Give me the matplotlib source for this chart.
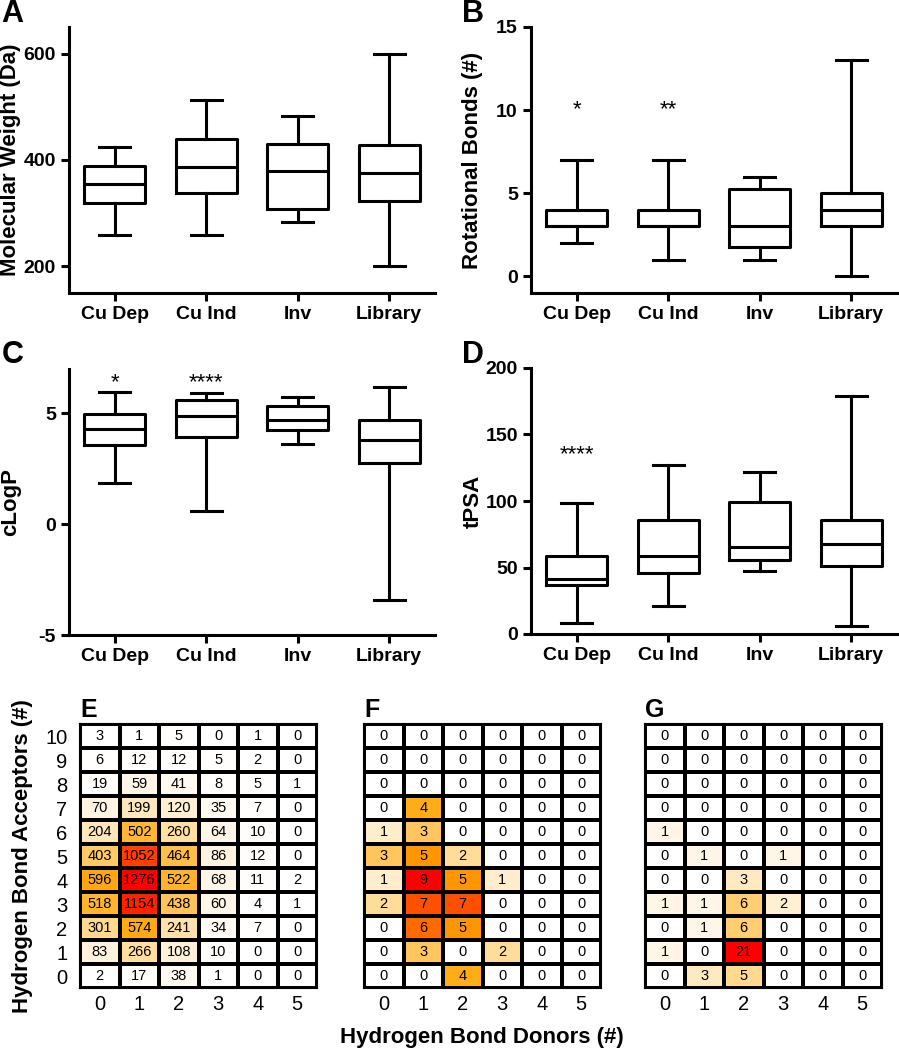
import numpy as np
import matplotlib
matplotlib.use("Agg")
import matplotlib.pyplot as plt
from matplotlib.colors import LinearSegmentedColormap, Normalize

plt.rcParams['font.family'] = ['Liberation Sans', 'DejaVu Sans']

# ---------------- data ----------------
groups = ["Cu Dep", "Cu Ind", "Inv", "Library"]

mw_low = [259, 259, 283, 200]
mw_q1 = [320, 338, 307, 323]
mw_med = [354, 387, 379, 375]
mw_q3 = [389, 439, 431, 428]
mw_high = [424, 513, 483, 599]

rb_low = [2, 1, 1, 0]
rb_q1 = [3, 3, 1.75, 3]
rb_med = [3, 3, 3, 4]
rb_q3 = [4, 4, 5.25, 5]
rb_high = [7, 7, 6, 13]

clogp_low = [1.87, 0.59, 3.6, -3.4]
clogp_q1 = [3.55, 3.92, 4.25, 2.74]
clogp_med = [4.28, 4.88, 4.7, 3.8]
clogp_q3 = [4.97, 5.6, 5.33, 4.7]
clogp_high = [5.98, 5.93, 5.75, 6.17]

tpsa_low = [8, 21, 47, 6.3]
tpsa_q1 = [37.2, 46, 55.8, 51]
tpsa_med = [41.5, 58.3, 65.6, 67.8]
tpsa_q3 = [58.5, 85.4, 99.2, 85.9]
tpsa_high = [98.7, 126.9, 121.8, 178.7]

# significance marks: (group index, y, text)
rb_sig = [(0, 10.0, "*"), (1, 10.0, "**")]
clogp_sig = [(0, 6.4, "*"), (1, 6.4, "****")]
tpsa_sig = [(0, 135, "****")]
mw_sig = []

donors = [0, 1, 2, 3, 4, 5]
acceptors = [0, 1, 2, 3, 4, 5, 6, 7, 8, 9, 10]

# rows: acceptors 10 (top) -> 0 (bottom); columns: donors 0..5
hb_library = [
    [3, 1, 5, 0, 1, 0],
    [6, 12, 12, 5, 2, 0],
    [19, 59, 41, 8, 5, 1],
    [70, 199, 120, 35, 7, 0],
    [204, 502, 260, 64, 10, 0],
    [403, 1052, 464, 86, 12, 0],
    [596, 1276, 522, 68, 11, 2],
    [518, 1154, 438, 60, 4, 1],
    [301, 574, 241, 34, 7, 0],
    [83, 266, 108, 10, 0, 0],
    [2, 17, 38, 1, 0, 0],
]
hb_cu_dep = [
    [0, 0, 0, 0, 0, 0],
    [0, 0, 0, 0, 0, 0],
    [0, 0, 0, 0, 0, 0],
    [0, 4, 0, 0, 0, 0],
    [1, 3, 0, 0, 0, 0],
    [3, 5, 2, 0, 0, 0],
    [1, 9, 5, 1, 0, 0],
    [2, 7, 7, 0, 0, 0],
    [0, 6, 5, 0, 0, 0],
    [0, 3, 0, 2, 0, 0],
    [0, 0, 4, 0, 0, 0],
]
hb_cu_ind = [
    [0, 0, 0, 0, 0, 0],
    [0, 0, 0, 0, 0, 0],
    [0, 0, 0, 0, 0, 0],
    [0, 0, 0, 0, 0, 0],
    [1, 0, 0, 0, 0, 0],
    [0, 1, 0, 1, 0, 0],
    [0, 0, 3, 0, 0, 0],
    [1, 1, 6, 2, 0, 0],
    [0, 1, 6, 0, 0, 0],
    [1, 0, 21, 0, 0, 0],
    [0, 3, 5, 0, 0, 0],
]

# ---------------- figure ----------------
W, H = 899, 1050
fig = plt.figure(figsize=(W / 100, H / 100), dpi=100)


def rect(l, t, r, b):
    return [l / W, 1 - b / H, (r - l) / W, (b - t) / H]


LW = 2.2


def boxpanel(r, low, q1, med, q3, high, ylim, yticks, ylabel, sig, letter, lpos):
    ax = fig.add_axes(r)
    stats = []
    for i in range(len(groups)):
        stats.append(dict(med=med[i], q1=q1[i], q3=q3[i], whislo=low[i],
                          whishi=high[i], fliers=[], label=groups[i]))
    pr = dict(color='black', linewidth=LW)
    ax.bxp(stats, positions=range(len(groups)), widths=0.67, showfliers=False,
           boxprops=pr, whiskerprops=pr, capprops=pr,
           medianprops=dict(color='black', linewidth=LW))
    ax.set_xlim(-0.5, len(groups) - 0.5)
    ax.set_ylim(*ylim)
    ax.set_yticks(yticks)
    ax.set_yticklabels([str(t) for t in yticks])
    ax.set_xticks(range(len(groups)))
    ax.set_xticklabels(groups)
    for s in ['top', 'right']:
        ax.spines[s].set_visible(False)
    for s in ['left', 'bottom']:
        ax.spines[s].set_linewidth(LW)
    ax.tick_params(axis='both', direction='out', length=5.5, width=LW,
                   labelsize=14, pad=4)
    for lab in ax.get_xticklabels() + ax.get_yticklabels():
        lab.set_fontweight('bold')
    ax.set_ylabel(ylabel, fontsize=16, fontweight='bold')
    ax.yaxis.set_label_coords(-0.13, 0.5)
    for gi, y, txt in sig:
        ax.text(gi, y, txt, ha='center', va='center', fontsize=16)
    fig.text(lpos[0] / W, 1 - lpos[1] / H, letter, fontsize=22,
             fontweight='bold', ha='left', va='baseline')
    return ax


boxpanel(rect(69, 27, 435, 293), mw_low, mw_q1, mw_med, mw_q3, mw_high,
         (150, 650), [200, 400, 600], "Molecular Weight (Da)", mw_sig, "A", (1, 22))
boxpanel(rect(531, 27, 897, 293), rb_low, rb_q1, rb_med, rb_q3, rb_high,
         (-1, 15), [0, 5, 10, 15], "Rotational Bonds (#)", rb_sig, "B", (462, 22))
boxpanel(rect(69, 369, 435, 635), clogp_low, clogp_q1, clogp_med, clogp_q3, clogp_high,
         (-5, 7), [-5, 0, 5], "cLogP", clogp_sig, "C", (2, 363))
boxpanel(rect(531, 368, 897, 634), tpsa_low, tpsa_q1, tpsa_med, tpsa_q3, tpsa_high,
         (0, 200), [0, 50, 100, 150, 200], "tPSA", tpsa_sig, "D", (462, 363))

# ---------------- heatmaps ----------------
cmap = LinearSegmentedColormap.from_list("hb", [
    (0.00, "#FFFFFF"),
    (0.05, "#FFF5E6"),
    (0.11, "#FFEDCC"),
    (0.16, "#FFE6BA"),
    (0.22, "#FFDC99"),
    (0.29, "#FFCD70"),
    (0.33, "#FFC660"),
    (0.40, "#FFB530"),
    (0.45, "#FFAA15"),
    (0.56, "#FF9500"),
    (0.67, "#FF6A00"),
    (0.78, "#FF5000"),
    (0.86, "#FF3300"),
    (1.00, "#FF0000"),
])


def heat(r, mat, letter, show_y):
    ax = fig.add_axes(r)
    arr = np.array(mat, dtype=float)[::-1]  # row 0 -> acceptor 0
    ax.pcolormesh(np.arange(len(donors) + 1), np.arange(len(acceptors) + 1), arr,
                  cmap=cmap, norm=Normalize(0, arr.max()),
                  edgecolors='black', linewidth=1.5)
    for i in range(arr.shape[0]):
        for j in range(arr.shape[1]):
            ax.text(j + 0.5, i + 0.5, str(int(arr[i, j])), ha='center',
                    va='center', fontsize=10.5, color='black')
    ax.set_xlim(0, len(donors))
    ax.set_ylim(0, len(acceptors))
    ax.set_xticks(np.arange(len(donors)) + 0.5)
    ax.set_xticklabels([str(d) for d in donors])
    ax.set_yticks(np.arange(len(acceptors)) + 0.5)
    if show_y:
        ax.set_yticklabels([str(a) for a in acceptors])
    else:
        ax.set_yticklabels([])
    ax.tick_params(axis='both', length=0, labelsize=14.5)
    ax.tick_params(axis='x', pad=5)
    ax.tick_params(axis='y', pad=9)
    for s in ax.spines.values():
        s.set_linewidth(1.5)
    fig.text(r[0], 1 - 717 / H, letter, fontsize=18, fontweight='bold',
             ha='left', va='baseline')
    return ax


heat(rect(80, 724, 317, 988), hb_library, "E", True)
heat(rect(364, 724, 601, 988), hb_cu_dep, "F", False)
heat(rect(645, 724, 882, 988), hb_cu_ind, "G", False)

fig.text(23 / W, 1 - 856 / H, "Hydrogen Bond Acceptors (#)", rotation=90,
         ha='center', va='center', fontsize=16, fontweight='bold')
fig.text(482 / W, 1 - 1037 / H, "Hydrogen Bond Donors (#)",
         ha='center', va='center', fontsize=16, fontweight='bold')

fig.savefig("out.png", dpi=100)
